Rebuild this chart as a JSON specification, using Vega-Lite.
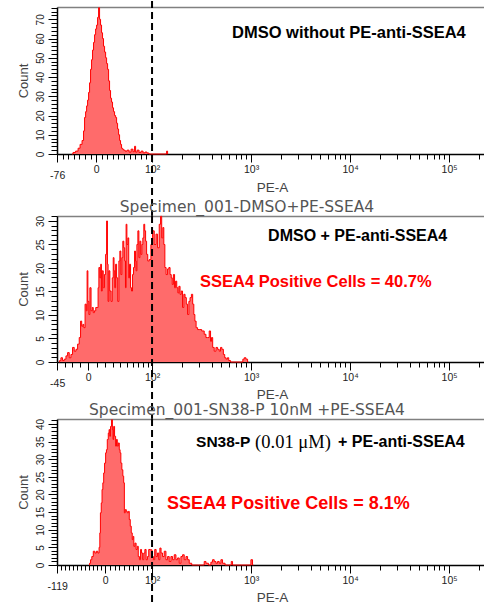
{
  "$schema": "https://vega.github.io/schema/vega-lite/v6.json",
  "padding": {"left": 17, "top": 0, "right": 0, "bottom": 0},
  "background": "white",
  "bounds": "flush",
  "spacing": 412,
  "config": {
    "view": {"stroke": null},
    "axis": {"grid": false, "domainColor": "#000", "domainWidth": 1.5, "tickColor": "#000", "tickWidth": 1, "labelFont": "Liberation Sans", "labelFontSize": 10, "labelColor": "#222", "labelOverlap": false, "labelBound": false, "labelFlush": false, "titleFont": "Liberation Sans", "titleFontWeight": "normal", "titleColor": "#444"},
    "title": {"font": "DejaVu Sans", "fontSize": 15.5, "fontWeight": "normal", "color": "#555", "anchor": "middle", "frame": "group", "dx": -23.5, "offset": -1, "baseline": "alphabetic"}
  },
  "vconcat": [
    {
      "bounds": "flush",
      "spacing": 62,
      "vconcat": [
        {
          "width": 427, "height": 147,
          "resolve": {"axis": {"x": "independent", "y": "independent"}},
          "layer": [
            {
              "data": {"values": [
                {"ch":119.2,"count":0},{"ch":121.2,"count":0.8},{"ch":124.3,"count":1.5},{"ch":126.3,"count":3},{"ch":128.3,"count":5},{"ch":130.3,"count":7},{"ch":131.3,"count":12},{"ch":132.4,"count":19},{"ch":133.4,"count":22},{"ch":134.4,"count":25},{"ch":135.4,"count":28},{"ch":136.4,"count":32},{"ch":137.4,"count":37},{"ch":138.4,"count":44},{"ch":139.4,"count":49},{"ch":140.4,"count":54},{"ch":141.4,"count":58},{"ch":142.5,"count":62},{"ch":143.5,"count":65},{"ch":144.5,"count":67},{"ch":145.5,"count":71},{"ch":146.5,"count":76},{"ch":147.5,"count":70},{"ch":148.5,"count":67},{"ch":149.5,"count":63},{"ch":150.5,"count":60},{"ch":151.5,"count":56},{"ch":152.6,"count":53},{"ch":153.6,"count":50},{"ch":154.6,"count":47},{"ch":155.6,"count":44},{"ch":156.6,"count":38},{"ch":157.6,"count":33},{"ch":158.6,"count":29},{"ch":159.6,"count":27},{"ch":160.6,"count":24},{"ch":161.6,"count":22},{"ch":162.7,"count":20},{"ch":163.7,"count":19},{"ch":164.7,"count":16},{"ch":165.7,"count":13},{"ch":166.7,"count":10},{"ch":167.7,"count":7},{"ch":168.7,"count":5},{"ch":169.7,"count":3},{"ch":170.7,"count":2.5},{"ch":171.7,"count":2},{"ch":173.8,"count":1.5},{"ch":175.8,"count":2},{"ch":177.8,"count":1},{"ch":179.8,"count":2.5},{"ch":181.8,"count":1.2},{"ch":182.9,"count":4},{"ch":183.9,"count":1},{"ch":185.9,"count":2},{"ch":187.9,"count":0.8},{"ch":189.9,"count":1.5},{"ch":191.9,"count":0.6},{"ch":193.9,"count":1},{"ch":195.9,"count":0.5},{"ch":198,"count":0},{"ch":214.2,"count":0},{"ch":215.2,"count":1.5},{"ch":216.2,"count":0}
              ]},
              "mark": {"type": "area", "interpolate": "step", "fill": "#ff6b6b", "opacity": 1, "line": {"color": "#ff0000", "strokeWidth": 1}},
              "encoding": {
                "x": {"field": "ch", "type": "quantitative", "scale": {"domain": [104, 535.3], "nice": false, "zero": false},
                  "axis": {"title": "PE-A", "titleX": 215, "titleY": 37, "titleAlign": "center", "titleBaseline": "alphabetic", "titleFontSize": 13.5, "labelFontSize": 10.5,
                    "values": [104.2,109.6,115.25,120.9,126.55,132.2,137.85,143.5,149.15,154.8,160.45,166.1,171.75,177.4,183.05,188.7,194.35,200,230.1,247.7,260.2,269.9,277.8,284.5,290.3,295.4,300,330.1,347.7,360.2,369.9,377.8,384.5,390.3,395.4,400,430.1,447.7,460.2,469.9,477.8,484.5,490.3,495.4,500,530.1],
                    "labelExpr": "datum.value === 104.2 ? '-76' : datum.value === 143.5 ? '0' : datum.value === 200 ? '10²' : datum.value === 300 ? '10³' : datum.value === 400 ? '10⁴' : datum.value === 500 ? '10⁵' : ''",
                    "tickSize": {"condition": {"test": "indexof([104.2,143.5,200,300,400,500], datum.value) >= 0", "value": 8}, "value": 5},
                    "labelPadding": {"condition": {"test": "datum.value === 104.2", "value": 8}, "value": 2}}},
                "y": {"field": "count", "type": "quantitative", "scale": {"domain": [0, 76.4], "nice": false},
                  "axis": {"title": "Count", "titleAngle": 270, "titleX": -30, "titleY": 73.5, "titleAlign": "center", "titleBaseline": "alphabetic", "titleFontSize": 13,
                    "values": [0,2,4,6,8,10,12,14,16,18,20,22,24,26,28,30,32,34,36,38,40,42,44,46,48,50,52,54,56,58,60,62,64,66,68,70,72,74,76],
                    "labelExpr": "datum.value % 10 === 0 ? datum.label : ''",
                    "tickSize": {"condition": {"test": "datum.value % 10 === 0", "value": 9}, "value": 6},
                    "labelAngle": 270, "labelAlign": "center", "labelBaseline": "bottom", "labelPadding": 3}}
              }
            },
            {
              "data": {"values": [{}]},
              "mark": {"type": "rule", "color": "#000", "strokeWidth": 2, "strokeDash": [7, 4], "clip": false},
              "encoding": {
                "x": {"datum": 200, "type": "quantitative", "axis": {"orient": "top", "labels": false, "ticks": false, "title": null, "domainColor": "#808080", "domainWidth": 1.5}},
                "y": {"datum": 79.5, "type": "quantitative", "axis": null},
                "y2": {"datum": -32.2}
              }
            },
            {
              "data": {"values": [{}]},
              "mark": {"type": "text", "text": "DMSO without PE-anti-SSEA4", "font": "Liberation Sans", "fontSize": 16.5, "fontWeight": "bold", "align": "left", "baseline": "middle", "color": "#000"},
              "encoding": {"x": {"datum": 280.8, "type": "quantitative", "axis": null}, "y": {"datum": 62.9, "type": "quantitative", "axis": null}}
            }
          ]
        },
        {
          "width": 427, "height": 146,
          "title": {"text": "Specimen_001-DMSO+PE-SSEA4"},
          "resolve": {"axis": {"x": "independent", "y": "independent"}},
          "layer": [
            {
              "data": {"values": [
                {"ch":106.1,"count":0},{"ch":107.1,"count":0.3},{"ch":108.8,"count":0.9},{"ch":110.4,"count":0.3},{"ch":112.2,"count":0.6},{"ch":113.9,"count":1.3},{"ch":115.5,"count":2.0},{"ch":117.2,"count":0.9},{"ch":118.9,"count":1.6},{"ch":120.5,"count":3.1},{"ch":122.3,"count":2.3},{"ch":124.0,"count":2.7},{"ch":125.6,"count":3.8},{"ch":127.3,"count":5.2},{"ch":128.3,"count":8.7},{"ch":129.6,"count":7.6},{"ch":130.6,"count":8.0},{"ch":131.6,"count":7.3},{"ch":133.1,"count":12.3},{"ch":134.1,"count":10.9},{"ch":134.7,"count":19.4},{"ch":135.7,"count":12.9},{"ch":136.7,"count":10.1},{"ch":137.7,"count":15.8},{"ch":139.1,"count":10.9},{"ch":140.1,"count":11.6},{"ch":141.1,"count":10.5},{"ch":142.5,"count":10.9},{"ch":143.8,"count":11.6},{"ch":145.2,"count":11.6},{"ch":145.8,"count":15.8},{"ch":146.8,"count":20.1},{"ch":147.8,"count":17.9},{"ch":148.5,"count":20.8},{"ch":149.2,"count":15.1},{"ch":150.2,"count":19.4},{"ch":151.2,"count":15.8},{"ch":152.6,"count":18.6},{"ch":153.6,"count":22.9},{"ch":154.6,"count":30.0},{"ch":155.3,"count":20.8},{"ch":155.9,"count":12.9},{"ch":156.9,"count":19.4},{"ch":157.9,"count":15.1},{"ch":159.3,"count":12.9},{"ch":160.3,"count":17.9},{"ch":161.3,"count":22.2},{"ch":161.9,"count":19.4},{"ch":162.7,"count":15.8},{"ch":163.7,"count":20.8},{"ch":164.7,"count":17.9},{"ch":166.0,"count":12.9},{"ch":167.0,"count":21.5},{"ch":168.0,"count":23.6},{"ch":169.0,"count":18.6},{"ch":170.0,"count":22.2},{"ch":171.0,"count":25.7},{"ch":172.0,"count":24.3},{"ch":172.8,"count":21.5},{"ch":173.5,"count":15.8},{"ch":174.1,"count":29.3},{"ch":175.1,"count":25.0},{"ch":176.1,"count":26.4},{"ch":176.8,"count":17.9},{"ch":177.8,"count":20.8},{"ch":178.8,"count":15.8},{"ch":179.8,"count":15.1},{"ch":180.8,"count":18.6},{"ch":181.8,"count":20.1},{"ch":182.9,"count":23.6},{"ch":183.6,"count":21.5},{"ch":184.2,"count":19.4},{"ch":185.2,"count":25.0},{"ch":186.2,"count":27.9},{"ch":187.2,"count":22.2},{"ch":188.2,"count":25.7},{"ch":189.2,"count":22.9},{"ch":190.2,"count":25.0},{"ch":191.2,"count":26.4},{"ch":192.2,"count":29.3},{"ch":193.0,"count":27.9},{"ch":194.0,"count":25.7},{"ch":195.0,"count":22.9},{"ch":196.3,"count":21.5},{"ch":198.0,"count":21.8},{"ch":199.7,"count":25.0},{"ch":201.3,"count":27.9},{"ch":203.1,"count":25.0},{"ch":204.8,"count":27.2},{"ch":206.4,"count":24.3},{"ch":208.1,"count":29.3},{"ch":209.1,"count":31.0},{"ch":210.4,"count":26.4},{"ch":211.4,"count":28.6},{"ch":212.4,"count":25.0},{"ch":213.5,"count":20.1},{"ch":214.9,"count":18.6},{"ch":216.5,"count":19.8},{"ch":217.5,"count":20.1},{"ch":218.9,"count":18.6},{"ch":219.9,"count":17.9},{"ch":220.9,"count":16.5},{"ch":222.2,"count":18.6},{"ch":223.3,"count":15.8},{"ch":224.3,"count":17.2},{"ch":225.6,"count":15.8},{"ch":226.6,"count":14.7},{"ch":227.6,"count":16.1},{"ch":229.0,"count":14.4},{"ch":230.0,"count":15.1},{"ch":231.6,"count":11.6},{"ch":232.6,"count":14.4},{"ch":234.1,"count":13.7},{"ch":235.1,"count":12.3},{"ch":236.7,"count":10.1},{"ch":237.7,"count":12.9},{"ch":239.1,"count":13.7},{"ch":240.4,"count":14.4},{"ch":241.7,"count":12.3},{"ch":242.7,"count":10.1},{"ch":243.8,"count":8.7},{"ch":245.2,"count":7.3},{"ch":246.8,"count":6.9},{"ch":248.5,"count":6.9},{"ch":251.8,"count":6.6},{"ch":253.6,"count":5.9},{"ch":255.3,"count":5.2},{"ch":256.9,"count":5.2},{"ch":258.6,"count":6.6},{"ch":259.6,"count":4.4},{"ch":260.6,"count":5.2},{"ch":261.9,"count":3.1},{"ch":263.7,"count":2.3},{"ch":265.4,"count":3.1},{"ch":267.0,"count":2.7},{"ch":268.7,"count":2.3},{"ch":269.7,"count":3.1},{"ch":271.4,"count":2.7},{"ch":272.7,"count":1.6},{"ch":274.1,"count":0.9},{"ch":275.5,"count":0.6},{"ch":276.8,"count":0.9},{"ch":278.1,"count":0.3},{"ch":280.5,"count":0},{"ch":291.2,"count":0},{"ch":292.2,"count":0.6},{"ch":294.0,"count":0.9},{"ch":295.7,"count":0.6},{"ch":297.3,"count":0}
              ]},
              "mark": {"type": "area", "interpolate": "step", "fill": "#ff6b6b", "opacity": 1, "line": {"color": "#ff0000", "strokeWidth": 1}},
              "encoding": {
                "x": {"field": "ch", "type": "quantitative", "scale": {"domain": [104, 535.3], "nice": false, "zero": false},
                  "axis": {"title": "PE-A", "titleX": 215, "titleY": 36, "titleAlign": "center", "titleBaseline": "alphabetic", "titleFontSize": 13.5, "labelFontSize": 10.5,
                    "values": [104.2,112.2,119.2,127.3,135.4,144.5,152.6,160.6,167.7,174.8,180.8,185.9,190.9,196.0,200,230.1,247.7,260.2,269.9,277.8,284.5,290.3,295.4,300,330.1,347.7,360.2,369.9,377.8,384.5,390.3,395.4,400,430.1,447.7,460.2,469.9,477.8,484.5,490.3,495.4,500,530.1],
                    "labelExpr": "datum.value === 104.2 ? '-45' : datum.value === 135.4 ? '0' : datum.value === 200 ? '10²' : datum.value === 300 ? '10³' : datum.value === 400 ? '10⁴' : datum.value === 500 ? '10⁵' : ''",
                    "tickSize": {"condition": {"test": "indexof([104.2,135.4,200,300,400,500], datum.value) >= 0", "value": 8}, "value": 5},
                    "labelPadding": {"condition": {"test": "datum.value === 104.2", "value": 8}, "value": 2}}},
                "y": {"field": "count", "type": "quantitative", "scale": {"domain": [0, 31.06], "nice": false},
                  "axis": {"title": "Count", "titleAngle": 270, "titleX": -30, "titleY": 73, "titleAlign": "center", "titleBaseline": "alphabetic", "titleFontSize": 13,
                    "values": [0,1,2,3,4,5,6,7,8,9,10,11,12,13,14,15,16,17,18,19,20,21,22,23,24,25,26,27,28,29,30,31],
                    "labelExpr": "datum.value % 5 === 0 ? datum.label : ''",
                    "tickSize": {"condition": {"test": "datum.value % 5 === 0", "value": 9}, "value": 6},
                    "labelAngle": 270, "labelAlign": "center", "labelBaseline": "bottom", "labelPadding": 3}}
              }
            },
            {
              "data": {"values": [{}]},
              "mark": {"type": "rule", "color": "#000", "strokeWidth": 2, "strokeDash": [7, 4], "clip": false},
              "encoding": {
                "x": {"datum": 200, "type": "quantitative", "axis": {"orient": "top", "labels": false, "ticks": false, "title": null, "domainColor": "#808080", "domainWidth": 1.5}},
                "y": {"datum": 31.06, "type": "quantitative", "axis": null},
                "y2": {"datum": -12.1}
              }
            },
            {
              "data": {"values": [{}]},
              "mark": {"type": "text", "text": "DMSO + PE-anti-SSEA4", "font": "Liberation Sans", "fontSize": 16, "fontWeight": "bold", "align": "left", "baseline": "middle", "color": "#000"},
              "encoding": {"x": {"datum": 317.2, "type": "quantitative", "axis": null}, "y": {"datum": 26.8, "type": "quantitative", "axis": null}}
            },
            {
              "data": {"values": [{}]},
              "mark": {"type": "text", "text": "SSEA4 Positive Cells = 40.7%", "font": "Liberation Sans", "fontSize": 16.5, "fontWeight": "bold", "align": "left", "baseline": "middle", "color": "#ff0000"},
              "encoding": {"x": {"datum": 248.5, "type": "quantitative", "axis": null}, "y": {"datum": 17.0, "type": "quantitative", "axis": null}}
            }
          ]
        }
      ]
    },
    {
      "width": 427, "height": 146,
      "title": {"text": "Specimen_001-SN38-P 10nM +PE-SSEA4"},
      "resolve": {"axis": {"x": "independent", "y": "independent"}},
      "layer": [
        {
          "data": {"values": [
            {"ch":136.4,"count":0},{"ch":137.4,"count":0.5},{"ch":138.4,"count":1.5},{"ch":139.9,"count":2.4},{"ch":141.4,"count":3.9},{"ch":143.0,"count":3.4},{"ch":144.5,"count":3.9},{"ch":146.0,"count":3.4},{"ch":147.0,"count":5},{"ch":147.5,"count":9.1},{"ch":148.2,"count":14.8},{"ch":149.2,"count":17.6},{"ch":149.8,"count":21.4},{"ch":150.8,"count":23.3},{"ch":151.5,"count":26.1},{"ch":152.6,"count":28.9},{"ch":153.6,"count":31.8},{"ch":154.3,"count":32.7},{"ch":155.3,"count":35.6},{"ch":156.3,"count":37.4},{"ch":156.9,"count":38.4},{"ch":157.6,"count":36.5},{"ch":158.6,"count":39.3},{"ch":159.6,"count":41.2},{"ch":160.3,"count":38.4},{"ch":160.9,"count":35.6},{"ch":161.6,"count":39.3},{"ch":162.7,"count":36.5},{"ch":163.7,"count":33.7},{"ch":164.4,"count":35.6},{"ch":165.4,"count":33.7},{"ch":166.4,"count":34.6},{"ch":167.4,"count":32.7},{"ch":168.0,"count":31.8},{"ch":169.0,"count":28.9},{"ch":170.0,"count":27.0},{"ch":171.0,"count":25.2},{"ch":171.7,"count":23.3},{"ch":172.4,"count":14.8},{"ch":173.5,"count":15.7},{"ch":174.5,"count":15.2},{"ch":175.5,"count":14.8},{"ch":176.5,"count":15.2},{"ch":177.5,"count":12.9},{"ch":178.5,"count":11.0},{"ch":179.5,"count":9.1},{"ch":180.5,"count":7.2},{"ch":181.1,"count":8.1},{"ch":182.1,"count":5.3},{"ch":183.2,"count":6.2},{"ch":184.6,"count":4.4},{"ch":185.6,"count":5.3},{"ch":186.6,"count":2.4},{"ch":187.9,"count":1.5},{"ch":188.9,"count":4.4},{"ch":189.9,"count":3.4},{"ch":191.2,"count":1.5},{"ch":192.2,"count":3.4},{"ch":193.3,"count":4.4},{"ch":194.7,"count":1.5},{"ch":196.0,"count":2.4},{"ch":197.3,"count":4.4},{"ch":199.3,"count":4.3},{"ch":200.7,"count":2.4},{"ch":202.0,"count":1.5},{"ch":203.4,"count":4.4},{"ch":204.8,"count":2.4},{"ch":206.1,"count":3.4},{"ch":207.4,"count":1.5},{"ch":208.4,"count":4.8},{"ch":209.8,"count":3.4},{"ch":211.4,"count":2.4},{"ch":213.2,"count":3.9},{"ch":214.9,"count":1.5},{"ch":216.5,"count":2.4},{"ch":218.2,"count":1.0},{"ch":219.9,"count":2.4},{"ch":221.5,"count":1.5},{"ch":223.3,"count":2.9},{"ch":225.0,"count":1.5},{"ch":226.6,"count":2.0},{"ch":228.3,"count":0.5},{"ch":230.0,"count":2.4},{"ch":231.6,"count":2.9},{"ch":233.4,"count":1.5},{"ch":235.1,"count":2.4},{"ch":236.7,"count":1.5},{"ch":238.4,"count":0.5},{"ch":241.7,"count":0},{"ch":251.8,"count":0},{"ch":253.6,"count":1.0},{"ch":255.3,"count":0.5},{"ch":258.6,"count":0},{"ch":260.3,"count":0.8},{"ch":261.9,"count":1.5},{"ch":263.7,"count":1.0},{"ch":265.4,"count":0.5},{"ch":267.0,"count":1.0},{"ch":268.7,"count":0.5},{"ch":270.4,"count":1.5},{"ch":272.0,"count":0.5},{"ch":275.5,"count":0},{"ch":279.5,"count":0},{"ch":280.5,"count":1.0},{"ch":282.1,"count":0},{"ch":299.0,"count":0},{"ch":300.7,"count":1.5},{"ch":302.3,"count":0}
          ]},
          "mark": {"type": "area", "interpolate": "step", "fill": "#ff6b6b", "opacity": 1, "line": {"color": "#ff0000", "strokeWidth": 1}},
          "encoding": {
            "x": {"field": "ch", "type": "quantitative", "scale": {"domain": [104, 535.3], "nice": false, "zero": false},
              "axis": {"title": "PE-A", "titleX": 215, "titleY": 36, "titleAlign": "center", "titleBaseline": "alphabetic", "titleFontSize": 13.5, "labelFontSize": 10.5,
                "values": [104.2,108.16,112.2,116.24,120.28,124.32,128.36,132.4,136.44,140.48,144.52,148.56,152.6,157.35,162.1,166.85,171.6,176.35,181.1,185.85,190.6,195.35,200,230.1,247.7,260.2,269.9,277.8,284.5,290.3,295.4,300,330.1,347.7,360.2,369.9,377.8,384.5,390.3,395.4,400,430.1,447.7,460.2,469.9,477.8,484.5,490.3,495.4,500,530.1],
                "labelExpr": "datum.value === 104.2 ? '-119' : datum.value === 152.6 ? '0' : datum.value === 200 ? '10²' : datum.value === 300 ? '10³' : datum.value === 400 ? '10⁴' : datum.value === 500 ? '10⁵' : ''",
                "tickSize": {"condition": {"test": "indexof([104.2,152.6,200,300,400,500], datum.value) >= 0", "value": 8}, "value": 5},
                "labelPadding": {"condition": {"test": "datum.value === 104.2", "value": 8}, "value": 2}}},
            "y": {"field": "count", "type": "quantitative", "scale": {"domain": [0, 41.4], "nice": false},
              "axis": {"title": "Count", "titleAngle": 270, "titleX": -30, "titleY": 73, "titleAlign": "center", "titleBaseline": "alphabetic", "titleFontSize": 13,
                "values": [0,1,2,3,4,5,6,7,8,9,10,11,12,13,14,15,16,17,18,19,20,21,22,23,24,25,26,27,28,29,30,31,32,33,34,35,36,37,38,39,40,41],
                "labelExpr": "datum.value % 5 === 0 ? datum.label : ''",
                "tickSize": {"condition": {"test": "datum.value % 5 === 0", "value": 9}, "value": 6},
                "labelAngle": 270, "labelAlign": "center", "labelBaseline": "bottom", "labelPadding": 3}}
          }
        },
        {
          "data": {"values": [{}]},
          "mark": {"type": "rule", "color": "#000", "strokeWidth": 2, "strokeDash": [7, 4], "clip": false},
          "encoding": {
            "x": {"datum": 200, "type": "quantitative", "axis": {"orient": "top", "labels": false, "ticks": false, "title": null, "domainColor": "#808080", "domainWidth": 1.5}},
            "y": {"datum": 41.4, "type": "quantitative", "axis": null},
            "y2": {"datum": -11.6}
          }
        },
        {
          "data": {"values": [{}]},
          "mark": {"type": "text", "text": "SN38-P", "font": "Liberation Sans", "fontSize": 15.5, "fontWeight": "bold", "align": "right", "baseline": "middle", "color": "#000"},
          "encoding": {"x": {"datum": 299.3, "type": "quantitative", "axis": null}, "y": {"datum": 34.9, "type": "quantitative", "axis": null}}
        },
        {
          "data": {"values": [{}]},
          "mark": {"type": "text", "text": "(0.01 μM)", "font": "Liberation Serif", "fontSize": 18.5, "fontWeight": "normal", "align": "left", "baseline": "middle", "color": "#000"},
          "encoding": {"x": {"datum": 304.1, "type": "quantitative", "axis": null}, "y": {"datum": 34.9, "type": "quantitative", "axis": null}}
        },
        {
          "data": {"values": [{}]},
          "mark": {"type": "text", "text": "+ PE-anti-SSEA4", "font": "Liberation Sans", "fontSize": 16, "fontWeight": "bold", "align": "left", "baseline": "middle", "color": "#000"},
          "encoding": {"x": {"datum": 387.9, "type": "quantitative", "axis": null}, "y": {"datum": 34.9, "type": "quantitative", "axis": null}}
        },
        {
          "data": {"values": [{}]},
          "mark": {"type": "text", "text": "SSEA4 Positive Cells = 8.1%", "font": "Liberation Sans", "fontSize": 18, "fontWeight": "bold", "align": "left", "baseline": "middle", "color": "#ff0000"},
          "encoding": {"x": {"datum": 215.2, "type": "quantitative", "axis": null}, "y": {"datum": 17.3, "type": "quantitative", "axis": null}}
        }
      ]
    }
  ]
}
